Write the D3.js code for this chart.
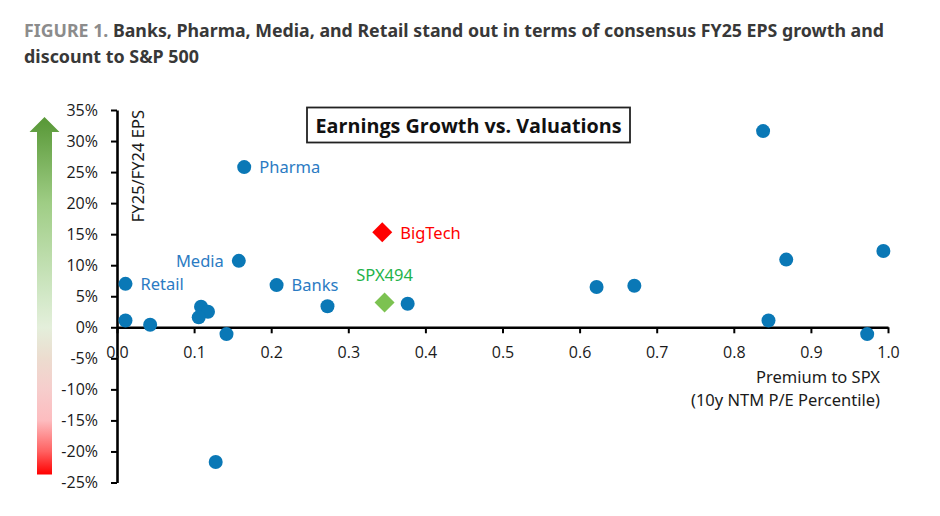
<!DOCTYPE html>
<html>
<head>
<meta charset="utf-8">
<script src="https://cdn.jsdelivr.net/npm/d3@7"></script>
<style>
  body { margin: 0; background: #fff; }
  svg { display: block; }
</style>
</head>
<body>
<div id="chart"></div>
<script>
// sector points: premium to SPX (percentile) vs FY25/FY24 EPS growth (%)
const names = ["Pharma", "Media", "Retail", "Banks", "", "", "", "", "", "",
               "", "", "", "", "", "", "", "", "", ""];
const premium = [0.165, 0.158, 0.011, 0.207, 0.273, 0.011, 0.043, 0.109, 0.118, 0.106,
                 0.142, 0.128, 0.377, 0.622, 0.671, 0.838, 0.868, 0.845, 0.973, 0.994];
const growth = [25.8, 10.7, 7.0, 6.8, 3.4, 1.1, 0.4, 3.3, 2.5, 1.6,
                -1.1, -21.7, 3.8, 6.5, 6.7, 31.6, 10.9, 1.1, -1.1, 12.3];

// highlighted diamonds
const markNames = ["BigTech", "SPX494"];
const markPremium = [0.344, 0.347];
const markGrowth = [15.3, 4.0];

const yTicks = [-25, -20, -15, -10, -5, 0, 5, 10, 15, 20, 25, 30, 35];
const xTicks = [0, 0.1, 0.2, 0.3, 0.4, 0.5, 0.6, 0.7, 0.8, 0.9, 1.0];

const width = 940, height = 516;
const tickFont = "'Open Sans', sans-serif";
const labelFont = "'Noto Sans', sans-serif";

const svg = d3.select("#chart").append("svg")
  .attr("width", width)
  .attr("height", height);

svg.append("rect").attr("width", width).attr("height", height).attr("fill", "#fff");

// figure title
const title = svg.append("text")
  .attr("x", 24).attr("y", 37)
  .style("font-family", labelFont)
  .style("font-weight", "bold")
  .style("font-size", "18px")
  .attr("textLength", 860)
  .attr("lengthAdjust", "spacingAndGlyphs");
title.append("tspan").attr("fill", "#8c8c8c").text("FIGURE 1. ");
title.append("tspan").attr("fill", "#383838")
  .text("Banks, Pharma, Media, and Retail stand out in terms of consensus FY25 EPS growth and");

svg.append("text")
  .attr("x", 24).attr("y", 63)
  .attr("fill", "#383838")
  .style("font-family", labelFont)
  .style("font-weight", "bold")
  .style("font-size", "18px")
  .attr("textLength", 175)
  .attr("lengthAdjust", "spacingAndGlyphs")
  .text("discount to S&P 500");

// scales
const x = d3.scaleLinear().domain([0, 1]).range([117, 888]);
const y = d3.scaleLinear().domain([-25, 35]).range([482.5, 110]);

// gradient arrow beside the y axis
const arrowTop = y(35) + 7, arrowBase = arrowTop + 15, arrowBottom = y(-25) - 8;
const defs = svg.append("defs");
const grad = defs.append("linearGradient")
  .attr("id", "arrowGrad")
  .attr("gradientUnits", "userSpaceOnUse")
  .attr("x1", 0).attr("x2", 0)
  .attr("y1", arrowTop).attr("y2", arrowBottom);
const gradStops = [
  [33, "#5b9a3a"], [20, "#9fcd85"], [10, "#c1dfb1"], [5, "#d2e8c7"], [0, "#e4efdb"],
  [-5, "#ecdccf"], [-10, "#f6cdcc"], [-15, "#fdbcbf"], [-20, "#ff6161"], [-24, "#ff0000"]
];
gradStops.forEach(([v, c]) => {
  const off = (y(v) - arrowTop) / (arrowBottom - arrowTop);
  grad.append("stop").attr("offset", Math.max(0, Math.min(1, off))).attr("stop-color", c);
});
svg.append("path")
  .attr("d", `M44.5,${arrowTop} L59.5,${arrowBase} L52,${arrowBase} L52,${arrowBottom}
              L37,${arrowBottom} L37,${arrowBase} L29.5,${arrowBase} Z`)
  .attr("fill", "url(#arrowGrad)");

// chart title box
svg.append("rect")
  .attr("x", 307).attr("y", 107.5)
  .attr("width", 323).attr("height", 35)
  .attr("fill", "#fff")
  .attr("stroke", "#222")
  .attr("stroke-width", 1.8);
svg.append("text")
  .attr("x", 468.5).attr("y", 133)
  .attr("text-anchor", "middle")
  .attr("fill", "#111")
  .style("font-family", tickFont)
  .style("font-weight", "bold")
  .style("font-size", "20px")
  .attr("textLength", 306)
  .attr("lengthAdjust", "spacingAndGlyphs")
  .text("Earnings Growth vs. Valuations");

// y axis
const yAxis = svg.append("g")
  .attr("transform", `translate(${x(0)},0)`)
  .call(d3.axisLeft(y).tickValues(yTicks).tickFormat(d => d + "%")
    .tickSize(6).tickSizeOuter(0).tickPadding(13));

// x axis, crossing at 0%
const xAxis = svg.append("g")
  .attr("transform", `translate(0,${y(0)})`)
  .call(d3.axisBottom(x).tickValues(xTicks).tickFormat(d3.format(".1f"))
    .tickSize(6).tickSizeOuter(0).tickPadding(13));

[yAxis, xAxis].forEach(g => {
  g.select(".domain").attr("stroke", "#000").attr("stroke-width", 2.6);
  g.selectAll(".tick line").attr("stroke", "#000").attr("stroke-width", 2);
  g.selectAll(".tick text")
    .attr("fill", "#1a1a1a")
    .style("font-family", tickFont)
    .style("font-size", "16px");
});

// axis titles
svg.append("text")
  .attr("transform", `translate(144,110) rotate(-90)`)
  .attr("text-anchor", "end")
  .attr("fill", "#1a1a1a")
  .style("font-family", labelFont)
  .style("font-size", "16.5px")
  .text("FY25/FY24 EPS");

svg.append("text")
  .attr("x", 880).attr("y", 383)
  .attr("text-anchor", "end")
  .attr("fill", "#1a1a1a")
  .style("font-family", labelFont)
  .style("font-size", "16.5px")
  .text("Premium to SPX");
svg.append("text")
  .attr("x", 880).attr("y", 406)
  .attr("text-anchor", "end")
  .attr("fill", "#1a1a1a")
  .style("font-family", labelFont)
  .style("font-size", "16.5px")
  .text("(10y NTM P/E Percentile)");

// sector dots
const points = names.map((n, i) => ({ name: n, px: premium[i], gy: growth[i] }));

svg.append("g").selectAll("circle")
  .data(points)
  .enter()
  .append("circle")
  .attr("cx", d => x(d.px))
  .attr("cy", d => y(d.gy))
  .attr("r", 7)
  .attr("fill", "#0a78b6");

// labels next to named dots
const labelSide = { Pharma: "right", Media: "left", Retail: "right", Banks: "right" };
svg.append("g").selectAll("text")
  .data(points.filter(d => d.name))
  .enter()
  .append("text")
  .attr("x", d => x(d.px) + (labelSide[d.name] === "left" ? -15 : 15))
  .attr("y", d => y(d.gy) + 6)
  .attr("text-anchor", d => labelSide[d.name] === "left" ? "end" : "start")
  .attr("fill", "#2b7bc3")
  .style("font-family", labelFont)
  .style("font-size", "16.5px")
  .text(d => d.name);

// diamonds for BigTech and SPX494
const marks = markNames.map((n, i) => ({ name: n, px: markPremium[i], gy: markGrowth[i] }));
const markColor = { BigTech: "#ff0000", SPX494: "#7cc251" };
const markTextColor = { BigTech: "#ff0000", SPX494: "#1fb34a" };

svg.append("g").selectAll("path")
  .data(marks)
  .enter()
  .append("path")
  .attr("transform", d => `translate(${x(d.px)},${y(d.gy)})`)
  .attr("d", "M0,-10 L10,0 L0,10 L-10,0 Z")
  .attr("fill", d => markColor[d.name]);

svg.append("g").selectAll("text")
  .data(marks)
  .enter()
  .append("text")
  .attr("x", d => d.name === "BigTech" ? x(d.px) + 18 : x(d.px))
  .attr("y", d => d.name === "BigTech" ? y(d.gy) + 7 : y(d.gy) - 21)
  .attr("text-anchor", d => d.name === "BigTech" ? "start" : "middle")
  .attr("fill", d => markTextColor[d.name])
  .style("font-family", labelFont)
  .style("font-size", "16.5px")
  .text(d => d.name);
</script>
</body>
</html>
